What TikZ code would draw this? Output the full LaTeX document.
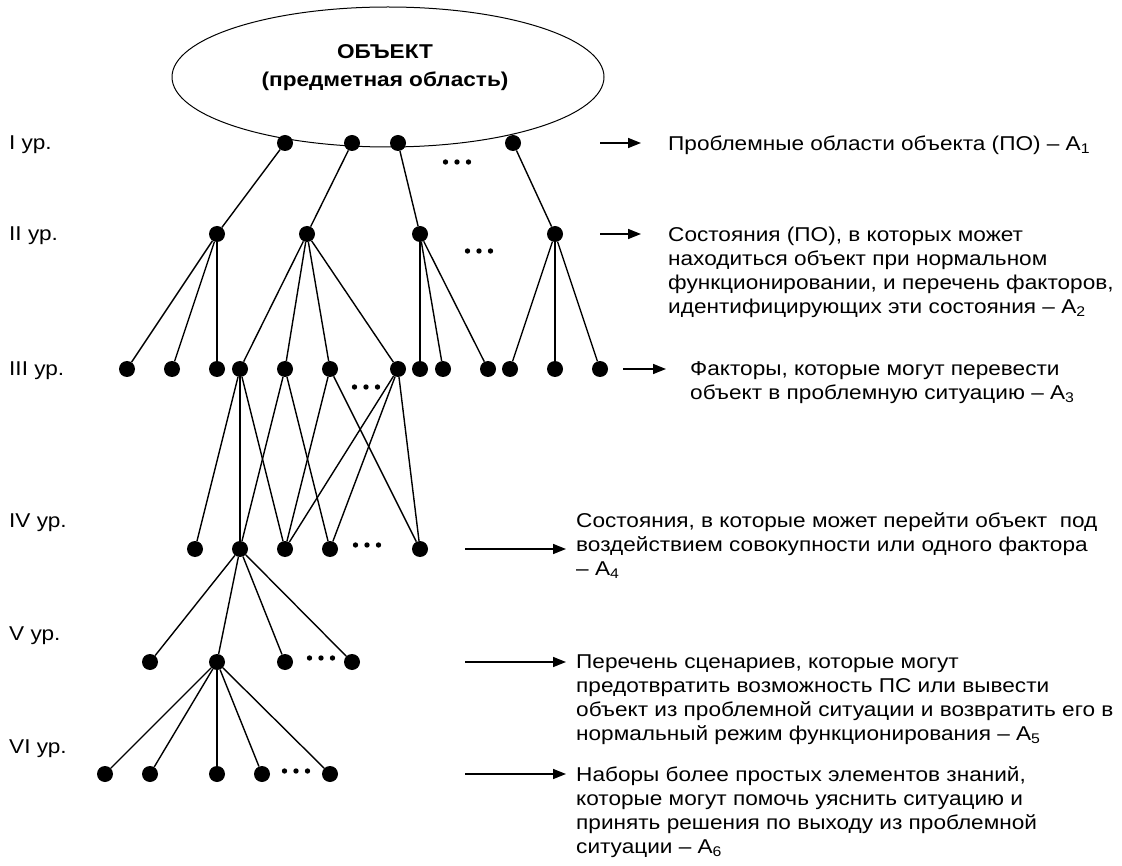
\documentclass[tikz,border=0pt]{standalone}
\usepackage{fontspec}
\setmainfont{Liberation Sans}[FakeStretch=1.13]
\usetikzlibrary{arrows.meta,shapes.geometric}
\begin{document}
\begin{tikzpicture}[x=1pt,y=-1pt,
  dot/.style={circle,fill=black,inner sep=0pt,minimum size=16pt},
  edge/.style={line width=1.4pt},
  arr/.style={line width=1.5pt,-{Triangle[length=13pt,width=10pt]}},
  lvl/.style={anchor=base west,inner sep=0pt,font=\fontsize{20}{24}\selectfont},
  desc/.style={anchor=north west,inner sep=0pt,align=left,font=\fontsize{20}{24}\selectfont},
  ell/.style={draw,ellipse,line width=1pt,minimum width=432pt,minimum height=140pt,inner sep=0pt},
  elltext/.style={align=center,inner sep=0pt,font=\bfseries\fontsize{20}{28}\selectfont},
]
\useasboundingbox (0,0) rectangle (1122,866);

\node[ell] (obj) at (388,77) {};
\node[elltext] (objtext) at (385,68) {ОБЪЕКТ\\(предметная область)};

% level labels
\node[lvl] (l1) at (9,150) {I ур.};
\node[lvl] (l2) at (9,241) {II ур.};
\node[lvl] (l3) at (9,376) {III ур.};
\node[lvl] (l4) at (9,527) {IV ур.};
\node[lvl] (l5) at (9,640) {V ур.};
\node[lvl] (l6) at (9,753) {VI ур.};

% level I
\foreach \n/\x in {a1/285,a2/352,a3/398,a4/513} \node[dot] (\n) at (\x,143) {};
% level II
\foreach \n/\x in {b1/217,b2/307,b3/420,b4/555} \node[dot] (\n) at (\x,234) {};
% level III
\foreach \n/\x in {c1/127,c2/172,c3/217,c4/240,c5/285,c6/330,c7/398,c8/420,c9/443,c10/488,c11/510,c12/555,c13/600} \node[dot] (\n) at (\x,369) {};
% level IV
\foreach \n/\x in {d1/195,d2/240,d3/285,d4/330,d5/420} \node[dot] (\n) at (\x,549) {};
% level V
\foreach \n/\x in {e1/150,e2/217,e3/285,e4/352} \node[dot] (\n) at (\x,662) {};
% level VI
\foreach \n/\x in {f1/105,f2/150,f3/217,f4/262,f5/330} \node[dot] (\n) at (\x,774) {};

% edges
\foreach \p/\q in {a1/b1,a2/b2,a3/b3,a4/b4,
  b1/c1,b1/c2,b1/c3,b2/c4,b2/c5,b2/c6,b2/c7,b3/c8,b3/c9,b3/c10,b4/c11,b4/c12,b4/c13,
  c4/d1,c4/d2,c4/d3,c5/d2,c5/d4,c6/d3,c6/d5,c7/d3,c7/d4,c7/d5,
  d2/e1,d2/e2,d2/e3,d2/e4,
  e2/f1,e2/f2,e2/f3,e2/f4,e2/f5}
  \draw[edge] (\p) -- (\q);

% ellipsis dots
\foreach \x/\y in {457/162,479/251,366/387,367/545,321/658,296/771}
  \foreach \k in {-11.5,0,11.5}
    \fill (\x+\k,\y) circle (2.7pt);

% arrows
\coordinate (s1) at (600,143); \coordinate (t1) at (641,143);
\coordinate (s2) at (600,234); \coordinate (t2) at (641,234);
\coordinate (s3) at (623,369); \coordinate (t3) at (666,369);
\coordinate (s4) at (465,549); \coordinate (t4) at (566,549);
\coordinate (s5) at (465,662); \coordinate (t5) at (566,662);
\coordinate (s6) at (465,774); \coordinate (t6) at (566,774);
\foreach \i in {1,...,6} \draw[arr] (s\i) -- (t\i);

% descriptions
\node[desc] (A1) at (668,135.4) {Проблемные области объекта (ПО) – A\textsubscript{1}};
\node[desc] (A2) at (668,226.4) {Состояния (ПО), в которых может\\находиться объект при нормальном\\функционировании, и перечень факторов,\\идентифицирующих эти состояния – A\textsubscript{2}};
\node[desc] (A3) at (690,361.4) {Факторы, которые могут перевести\\объект в проблемную ситуацию – A\textsubscript{3}};
\node[desc] (A4) at (576,512.4) {Состояния, в которые может перейти объект\ \ под\\воздействием совокупности или одного фактора\\– A\textsubscript{4}};
\node[desc] (A5) at (576,654.4) {Перечень сценариев, которые могут\\предотвратить возможность ПС или вывести\\объект из проблемной ситуации и возвратить его в\\нормальный режим функционирования – A\textsubscript{5}};
\node[desc] (A6) at (576,766.4) {Наборы более простых элементов знаний,\\которые могут помочь уяснить ситуацию и\\принять решения по выходу из проблемной\\ситуации – A\textsubscript{6}};
\end{tikzpicture}
\end{document}
